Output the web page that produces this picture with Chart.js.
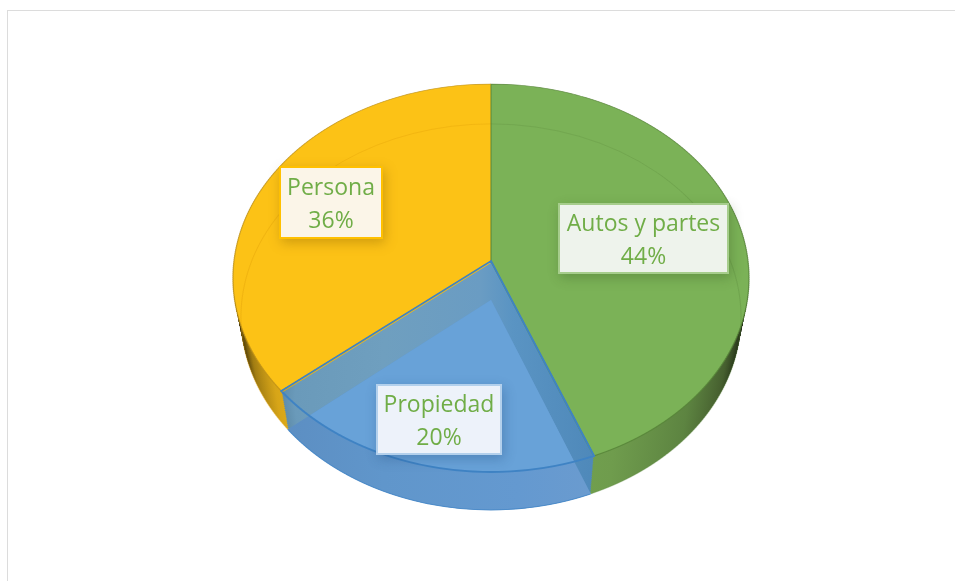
<!DOCTYPE html>
<html>
<head>
<meta charset="utf-8">
<style>
  html, body { margin: 0; padding: 0; background: #fff; overflow: hidden; }
  #frame { position: absolute; left: 7px; top: 10px; right: 0; bottom: 0; border-left: 1.5px solid #dcdcdc; border-top: 1.5px solid #dcdcdc; }
  #pie { position: absolute; left: 0; top: 0; }
</style>
</head>
<body>
<div id="frame"></div>
<canvas id="pie" width="955" height="581"></canvas>
<script src="https://cdn.jsdelivr.net/npm/chart.js@4"></script>
<script>
var categories = ['Autos y partes', 'Propiedad', 'Persona'];
var shares = [44, 20, 36];
var faceColors = ['#7bb257', '#68a2d8', '#fcc216'];

// pie is drawn flat by chart.js then projected row by row to fake the 3D tilt
var DEPTH = 39;
var PERSP = 0.0876;
var TILT_B = 192.5;
var WIDE_A = 257;
var ROW = 2;
var GREEN = 0, BLUE = 1, YELLOW = 2;

var labelBoxes = [
  { left: 558, top: 203, right: 729, bottom: 274, line1: 231, line2: 264, border: '#a6cd8c', fill: '#eef3ec', shadow: 'rgba(50,80,30,0.3)' },
  { left: 376, top: 384, right: 502, bottom: 455, line1: 412, line2: 445, border: '#b3d0ec', fill: '#edf2fa', shadow: 'rgba(30,70,120,0.3)' },
  { left: 279, top: 166, right: 383, bottom: 239, line1: 195, line2: 228, border: '#ffc000', fill: '#fbf5e8', shadow: 'rgba(130,90,0,0.35)' }
];

function layerMatrix(ctx, arc, rowY, t) {
  var R = arc.outerRadius;
  var sx = 1 - 0.031 * t, sy = 1 - 0.005 * t;
  var Y = (rowY + ROW / 2 - arc.y - DEPTH * t) / sy;
  var v = Y / (TILT_B + PERSP * Y);
  var w = 1 - PERSP * v;
  var a = WIDE_A * sx / w / R;
  var d = sy * TILT_B / (w * w) / R;
  ctx.setTransform(a, 0, 0, d, arc.x - a * arc.x, rowY + ROW / 2 - d * (arc.y + v * R));
}

function sectorPath(ctx, arc) {
  ctx.beginPath();
  ctx.moveTo(arc.x, arc.y);
  ctx.arc(arc.x, arc.y, arc.outerRadius, arc.startAngle, arc.endAngle);
  ctx.closePath();
}

function rimPath(ctx, arc) {
  ctx.beginPath();
  ctx.arc(arc.x, arc.y, arc.outerRadius, arc.startAngle, arc.endAngle);
}

function paint(ctx, arc, fill) {
  var keep = arc.options;
  arc.options = Object.assign({}, keep, { backgroundColor: fill, borderWidth: 0 });
  arc.draw(ctx);
  arc.options = keep;
}

function xGradient(ctx, arc, stops) {
  var g = ctx.createLinearGradient(arc.x - arc.outerRadius, 0, arc.x + arc.outerRadius, 0);
  stops.forEach(function(s) { g.addColorStop(s[0], s[1]); });
  return g;
}

var tiltPie = {
  id: 'tiltPie',
  beforeDatasetDraw: function() { return false; },
  afterDatasetsDraw: function(chart) {
    var ctx = chart.ctx;
    var arcs = chart.getDatasetMeta(0).data;
    var green = arcs[GREEN], blue = arcs[BLUE], yellow = arcs[YELLOW];
    var top = Math.floor(green.y - 180), bottom = Math.ceil(green.y + 252);
    var i;

    var greenWall = xGradient(ctx, green, [[0.5, '#76a852'], [0.72, '#6f9c4d'], [0.86, '#5d8441'], [0.94, '#465f2f'], [0.985, '#222e16'], [1, '#141b0d']]);
    var yellowWall = xGradient(ctx, yellow, [[0, '#2e2406'], [0.02, '#4a3a0a'], [0.05, '#a27d12'], [0.1, '#d7a518'], [0.18, '#ecb618'], [0.5, '#f4bc18']]);
    var innerWall = xGradient(ctx, blue, [[0.08, '#4f7a96'], [0.14, '#6a9aba'], [0.3, '#6f9fbf'], [0.48, '#6a9cc3'], [0.54, '#5a94c3'], [0.68, '#4f89ba']]);
    var frontWall = xGradient(ctx, blue, [[0.1, '#5c8ec2'], [0.3, '#6096cb'], [0.55, '#6499d0'], [0.68, '#6a9bcf']]);

    ctx.save();
    for (var rowY = top; rowY < bottom; rowY += ROW) {
      ctx.save();
      ctx.beginPath();
      ctx.rect(0, rowY, chart.width, ROW);
      ctx.clip();

      // opaque side walls, back to front
      if (rowY >= green.y) {
        for (i = 20; i > 0; i--) {
          layerMatrix(ctx, green, rowY, i / 20);
          paint(ctx, green, greenWall);
          paint(ctx, yellow, yellowWall);
        }
      }

      layerMatrix(ctx, green, rowY, 0);
      paint(ctx, green, faceColors[GREEN]);
      paint(ctx, yellow, faceColors[YELLOW]);

      // faint floor of the pie, seen through the top
      layerMatrix(ctx, green, rowY, 1);
      ctx.lineWidth = 1.1;
      ctx.strokeStyle = 'rgba(90,135,60,0.3)';
      rimPath(ctx, green);
      ctx.stroke();
      ctx.strokeStyle = 'rgba(225,160,10,0.4)';
      rimPath(ctx, yellow);
      ctx.stroke();

      // glass slice
      if (rowY >= blue.y) {
        for (i = 20; i > 0; i--) {
          layerMatrix(ctx, blue, rowY, i / 20);
          paint(ctx, blue, innerWall);
        }
        layerMatrix(ctx, blue, rowY, 1);
        paint(ctx, blue, frontWall);
        ctx.strokeStyle = 'rgba(70,135,200,0.9)';
        rimPath(ctx, blue);
        ctx.stroke();
        ctx.save();
        layerMatrix(ctx, blue, rowY, 0);
        sectorPath(ctx, blue);
        ctx.clip();
        layerMatrix(ctx, blue, rowY, 1);
        paint(ctx, blue, faceColors[BLUE]);
        ctx.restore();
      }

      // top edges
      layerMatrix(ctx, green, rowY, 0);
      ctx.lineWidth = 1.2;
      ctx.strokeStyle = 'rgba(85,130,55,0.8)';
      sectorPath(ctx, green);
      ctx.stroke();
      ctx.strokeStyle = 'rgba(190,145,25,0.8)';
      rimPath(ctx, yellow);
      ctx.stroke();
      ctx.lineWidth = 2;
      ctx.strokeStyle = '#3f83c4';
      sectorPath(ctx, blue);
      ctx.stroke();

      ctx.restore();
    }
    ctx.restore();
  },
  afterDraw: function(chart) {
    var ctx = chart.ctx;
    ctx.save();
    ctx.textAlign = 'center';
    ctx.textBaseline = 'alphabetic';
    ctx.font = '23px "Open Sans"';
    labelBoxes.forEach(function(box, i) {
      var w = box.right - box.left, h = box.bottom - box.top;
      ctx.save();
      ctx.shadowColor = box.shadow;
      ctx.shadowBlur = 11;
      ctx.shadowOffsetX = 2;
      ctx.shadowOffsetY = 4;
      ctx.fillStyle = box.fill;
      ctx.fillRect(box.left, box.top, w, h);
      ctx.restore();
      ctx.lineWidth = 2;
      ctx.strokeStyle = box.border;
      ctx.strokeRect(box.left + 1, box.top + 1, w - 2, h - 2);
      ctx.fillStyle = '#70ad47';
      ctx.fillText(categories[i], (box.left + box.right) / 2, box.line1);
      ctx.fillText(shares[i] + '%', (box.left + box.right) / 2, box.line2);
    });
    ctx.restore();
  }
};

new Chart(document.getElementById('pie'), {
  type: 'pie',
  data: {
    labels: categories,
    datasets: [{
      data: shares,
      backgroundColor: faceColors,
      borderWidth: 0
    }]
  },
  options: {
    responsive: false,
    animation: false,
    events: [],
    layout: { padding: { left: 233, right: 206, top: 3, bottom: 62 } },
    plugins: {
      legend: { display: false },
      tooltip: { enabled: false }
    }
  },
  plugins: [tiltPie]
});
</script>
</body>
</html>
